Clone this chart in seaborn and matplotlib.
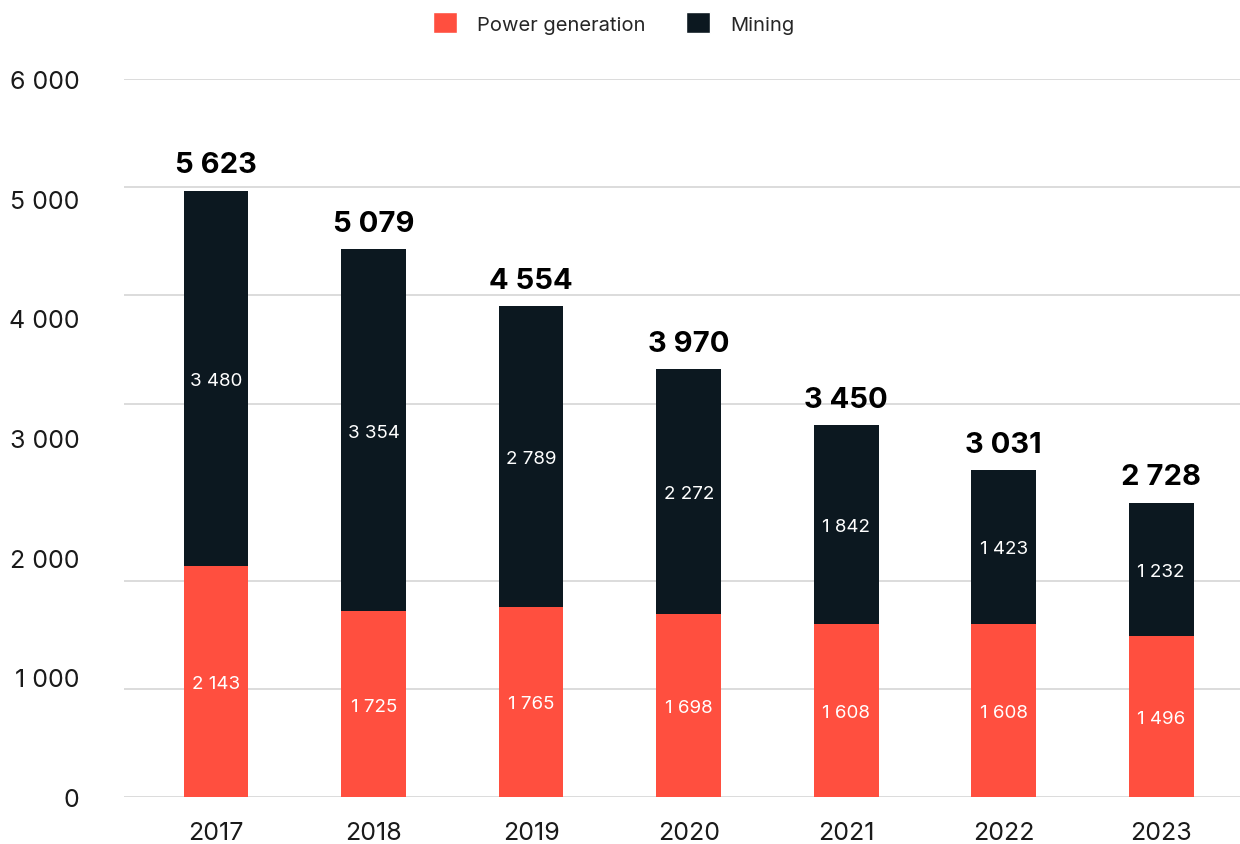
import numpy as np
import pandas as pd
import matplotlib
matplotlib.use("Agg")
import matplotlib.pyplot as plt
import seaborn as sns
from matplotlib.patches import Patch

years = ["2017", "2018", "2019", "2020", "2021", "2022", "2023"]
power = [2143, 1725, 1765, 1698, 1608, 1608, 1496]
mining = [3480, 3354, 2789, 2272, 1842, 1423, 1232]
tick_values = [0, 1000, 2000, 3000, 4000, 5000, 6000]
grid_levels = [0, 1000, 2000, 3645, 4655, 5660, 6660]
RED, DARK, GRID = "#FF4F3F", "#0C1820", "#D9D9D9"

def fmt(v):
    return f"{v:,}".replace(",", " ")

sns.set_theme(style="white")
plt.rcParams["font.family"] = ["Inter", "DejaVu Sans"]

df = pd.DataFrame({"year": years, "power": power, "mining": mining})
df["total"] = df["power"] + df["mining"]

fig = plt.figure(figsize=(12.4, 8.45), dpi=100)
ax = fig.add_axes([0.1, 47 / 845, 0.9, 718 / 845])
ymax = grid_levels[-1]

for g in grid_levels:
    ax.axhline(g, color=GRID, lw=1.3, zorder=0)

# stacked bars: full total in dark, power generation drawn over the base
sns.barplot(data=df, x="year", y="total", color=DARK, width=0.41, saturation=1, linewidth=0, ax=ax, zorder=2)
sns.barplot(data=df, x="year", y="power", color=RED, width=0.41, saturation=1, linewidth=0, ax=ax, zorder=3)

for i, r in df.iterrows():
    ax.text(i, r["power"] / 2, fmt(r["power"]), ha="center", va="center_baseline", color="white", fontsize=13.5, zorder=4)
    ax.text(i, r["power"] + r["mining"] / 2, fmt(r["mining"]), ha="center", va="center_baseline", color="white", fontsize=13.5, zorder=4)
    ax.annotate(fmt(r["total"]), (i, r["total"]), xytext=(0, 9), textcoords="offset points", ha="center", va="bottom",
                fontsize=21, fontweight="bold", color="black")

ax.set_xlim(-0.585, 6.5); ax.set_ylim(0, ymax)
ax.set_yticks([v * ymax / tick_values[-1] for v in tick_values], labels=[fmt(v) for v in tick_values])
ax.tick_params(axis="y", length=0, pad=32, labelsize=18, labelcolor="#1a1a1a")
ax.tick_params(axis="x", length=0, pad=17, labelsize=18, labelcolor="#1a1a1a")
ax.set_xlabel(""); ax.set_ylabel("")
sns.despine(ax=ax, left=True, bottom=True)

handles = [Patch(facecolor=RED, label="Power generation"), Patch(facecolor=DARK, label="Mining")]
fig.legend(handles=handles, loc="center", bbox_to_anchor=(614 / 1240, 1 - 24 / 845), ncol=2, frameon=False,
           fontsize=14.5, handlelength=1.2, handleheight=1.2, handletextpad=1.0, columnspacing=2.0)

plt.savefig("out.png", dpi=100)
plt.close()
